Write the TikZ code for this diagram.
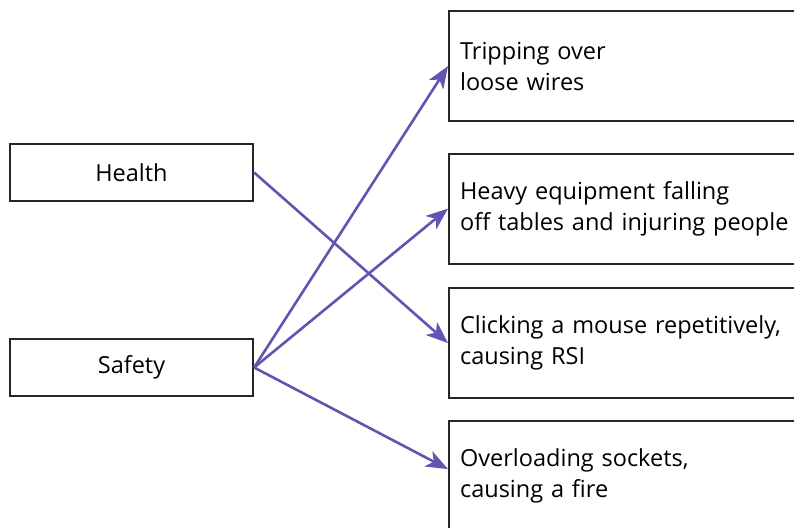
\documentclass[tikz,border=0pt]{standalone}
\usepackage{fontspec}
\setmainfont{Open Sans}
\usetikzlibrary{arrows.meta}
\definecolor{linkcol}{RGB}{98,84,176}
\begin{document}
\begin{tikzpicture}[x=1pt,y=-1pt,
  topic/.style={draw=black!85, line width=2.2pt, minimum width=243pt, minimum height=57pt,
    inner sep=0pt, font=\fontsize{23.5}{30}\selectfont},
  hazard/.style={draw=black!85, line width=2.2pt, anchor=north west, text width=380pt,
    minimum height=110pt, inner xsep=11pt, inner ysep=0pt, align=left,
    font=\fontsize{23.5}{31}\selectfont},
  link/.style={draw=linkcol, line width=2.6pt,
    -{Stealth[length=22pt, width=17pt, inset=6pt]}}]
  \useasboundingbox (0,0) rectangle (794,527);
  \clip (0,0) rectangle (794,527);
  % left-hand categories
  \node[topic] (health) at (131.5,172.5) {Health};
  \node[topic] (safety) at (131.5,367.5) {Safety};
  % right-hand examples
  \node[hazard] (trip) at (448,10) {Tripping over\\loose wires};
  \node[hazard] (heavy) at (448,152.5) {Heavy equipment falling\\off tables and injuring people};
  \node[hazard] (mouse) at (448,287) {Clicking a mouse repetitively,\\causing RSI};
  \node[hazard] (socket) at (448,420) {Overloading sockets,\\causing a fire};
  % links
  \draw[link] (health.east) -- (mouse.west);
  \draw[link] (safety.east) -- (trip.west);
  \draw[link] (safety.east) -- (heavy.west);
  \draw[link] (safety.east) -- ([yshift=7pt]socket.west);
\end{tikzpicture}
\end{document}
